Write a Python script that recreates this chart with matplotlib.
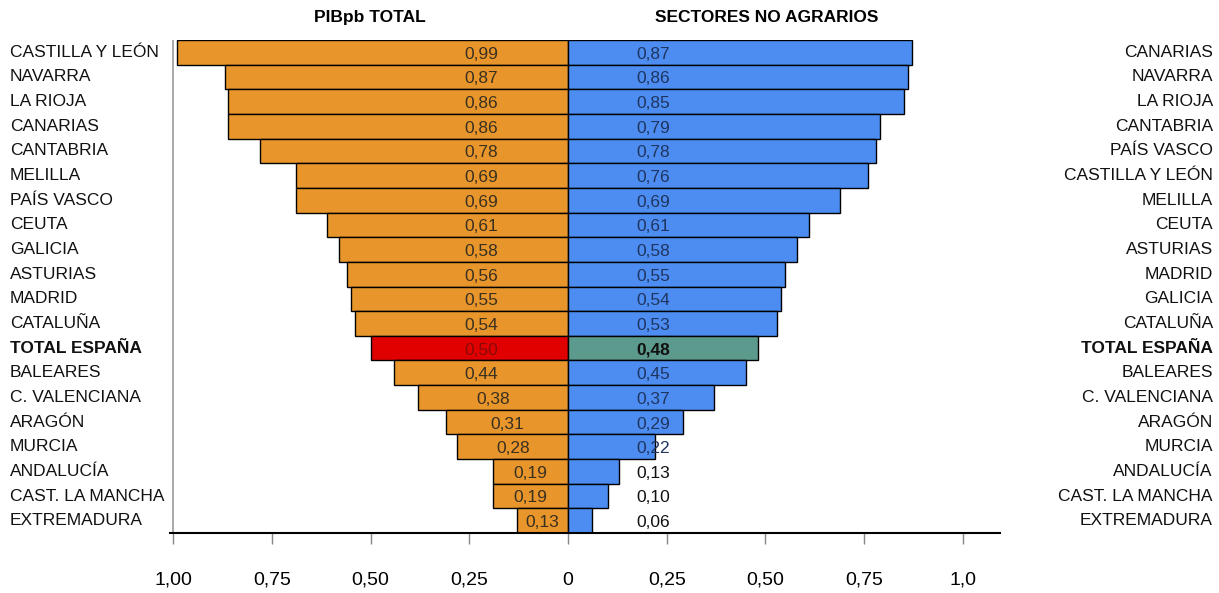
import matplotlib.pyplot as plt
from matplotlib.transforms import blended_transform_factory

plt.rcParams['font.family'] = ['Liberation Sans', 'DejaVu Sans']

# ---- datos ----
regiones_pib = ['CASTILLA Y LEÓN', 'NAVARRA', 'LA RIOJA', 'CANARIAS', 'CANTABRIA',
                'MELILLA', 'PAÍS VASCO', 'CEUTA', 'GALICIA', 'ASTURIAS', 'MADRID',
                'CATALUÑA', 'TOTAL ESPAÑA', 'BALEARES', 'C. VALENCIANA', 'ARAGÓN',
                'MURCIA', 'ANDALUCÍA', 'CAST. LA MANCHA', 'EXTREMADURA']
valores_pib = [0.99, 0.87, 0.86, 0.86, 0.78, 0.69, 0.69, 0.61, 0.58, 0.56, 0.55,
               0.54, 0.50, 0.44, 0.38, 0.31, 0.28, 0.19, 0.19, 0.13]

regiones_noagr = ['CANARIAS', 'NAVARRA', 'LA RIOJA', 'CANTABRIA', 'PAÍS VASCO',
                  'CASTILLA Y LEÓN', 'MELILLA', 'CEUTA', 'ASTURIAS', 'MADRID',
                  'GALICIA', 'CATALUÑA', 'TOTAL ESPAÑA', 'BALEARES', 'C. VALENCIANA',
                  'ARAGÓN', 'MURCIA', 'ANDALUCÍA', 'CAST. LA MANCHA', 'EXTREMADURA']
valores_noagr = [0.87, 0.86, 0.85, 0.79, 0.78, 0.76, 0.69, 0.61, 0.58, 0.55, 0.54,
                 0.53, 0.48, 0.45, 0.37, 0.29, 0.22, 0.13, 0.10, 0.06]

ticks = [-1.0, -0.75, -0.5, -0.25, 0, 0.25, 0.5, 0.75, 1.0]
tick_labels = ['1,00', '0,75', '0,50', '0,25', '0', '0,25', '0,50', '0,75', '1,0']

TOTAL = 'TOTAL ESPAÑA'
NARANJA = '#E8962B'
AZUL = '#4D8DF2'
ROJO = '#E00000'
VERDE = '#5B9A8C'


def fmt(v):
    return f'{v:.2f}'.replace('.', ',')


fig = plt.figure(figsize=(12.19, 5.93), dpi=100)
ax = fig.add_axes([0.1395, 0.1012, 0.6808, 0.8313])

n = len(valores_pib)
ys = list(range(n))

col_izq = [ROJO if r == TOTAL else NARANJA for r in regiones_pib]
col_der = [VERDE if r == TOTAL else AZUL for r in regiones_noagr]

ax.barh(ys, [-v for v in valores_pib], height=1.0, color=col_izq,
        edgecolor='black', linewidth=1.0, zorder=3)
ax.barh(ys, valores_noagr, height=1.0, color=col_der,
        edgecolor='black', linewidth=1.0, zorder=3)

# valores dentro de las barras
for y, r, v in zip(ys, regiones_pib, valores_pib):
    x = -min(0.22, v / 2)
    c = '#8a0a0a' if r == TOTAL else '#3a3020'
    ax.text(x, y + 0.08, fmt(v), ha='center', va='center', fontsize=12.5,
            color=c, zorder=4)
for y, r, v in zip(ys, regiones_noagr, valores_noagr):
    bold = r == TOTAL
    c = '#111111' if bold or v < 0.2 else '#1f3560'
    ax.text(0.215, y + 0.08, fmt(v), ha='center', va='center', fontsize=12.5,
            color=c, fontweight='bold' if bold else 'normal', zorder=4)

# etiquetas de regiones
tr = blended_transform_factory(fig.transFigure, ax.transData)
for y, r in zip(ys, regiones_pib):
    ax.text(0.008, y, r, transform=tr, ha='left', va='center', fontsize=12.5,
            fontweight='bold' if r == TOTAL else 'normal', color='#111111',
            clip_on=False)
for y, r in zip(ys, regiones_noagr):
    ax.text(0.995, y, r, transform=tr, ha='right', va='center', fontsize=12.5,
            fontweight='bold' if r == TOTAL else 'normal', color='#111111',
            clip_on=False)

ax.set_xlim(-1.008, 1.094)
ax.set_ylim(n - 0.5, -0.5)
ax.axvline(-1.0, color='#999999', linewidth=1.2, zorder=1)

for s in ['left', 'right', 'top']:
    ax.spines[s].set_visible(False)
ax.spines['bottom'].set_linewidth(1.5)
ax.spines['bottom'].set_zorder(5)

ax.set_yticks([])
ax.set_xticks(ticks)
ax.set_xticklabels(tick_labels, fontsize=14)
ax.tick_params(axis='x', direction='out', length=8, width=1, color='#888888',
               pad=20)

fig.text(0.3035, 0.97, 'PIBpb TOTAL', ha='center', va='center',
         fontsize=12.5, fontweight='bold')
fig.text(0.629, 0.97, 'SECTORES NO AGRARIOS', ha='center', va='center',
         fontsize=12.5, fontweight='bold')

fig.savefig('out.png', dpi=100)
